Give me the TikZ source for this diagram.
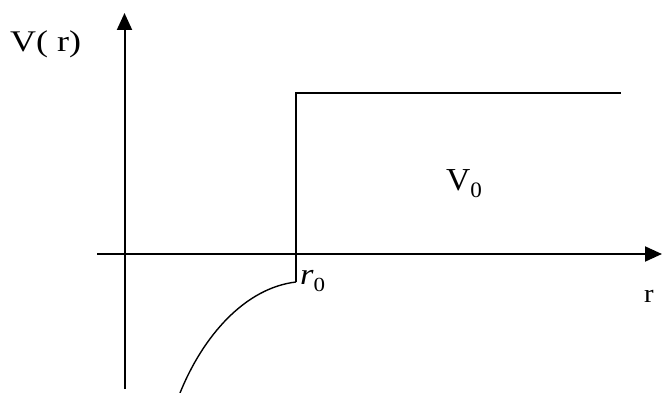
\documentclass[tikz,border=0pt]{standalone}
\usepackage{fontspec}
\setmainfont{Liberation Serif}
\usetikzlibrary{arrows.meta}
\begin{document}
\begin{tikzpicture}[x=1pt,y=-1pt,
  axis/.style={line width=2pt,-{Triangle[length=17pt,width=15pt]}},
  plot/.style={line width=1.4pt},
  lbl/.style={inner sep=0pt,anchor=base west}]
\useasboundingbox (0,0) rectangle (662,393);
% axes
\coordinate (yb) at (124.5,389);
\coordinate (yt) at (124.5,13);
\coordinate (xl) at (97,254);
\coordinate (xr) at (662,254);
\draw[axis] (yb) -- (yt);
\draw[axis] (xl) -- (xr);
% step
\coordinate (s0) at (296,282);
\coordinate (s1) at (296,93);
\coordinate (s2) at (621,93);
\coordinate (c0) at (180,393);
\draw[plot] (s0) -- (s1) -- (s2);
\draw[plot] (s0) .. controls (245,288) and (203,336) .. (c0);
% labels
\node[lbl,xscale=1.2] (vr) at (10,52) {\fontsize{30}{30}\selectfont V( r)};
\node[lbl,xscale=1.05] (v0) at (446,191) {\fontsize{32}{32}\selectfont V\raisebox{-0.2em}{\fontsize{22}{22}\selectfont 0}};
\node[lbl,xscale=1.15] (r0) at (300,284) {\fontsize{30}{30}\selectfont\itshape r\raisebox{-0.25em}{\fontsize{20}{20}\selectfont\upshape 0}};
\node[lbl,xscale=1.1] (r) at (644,302) {\fontsize{26}{26}\selectfont r};
\end{tikzpicture}
\end{document}
